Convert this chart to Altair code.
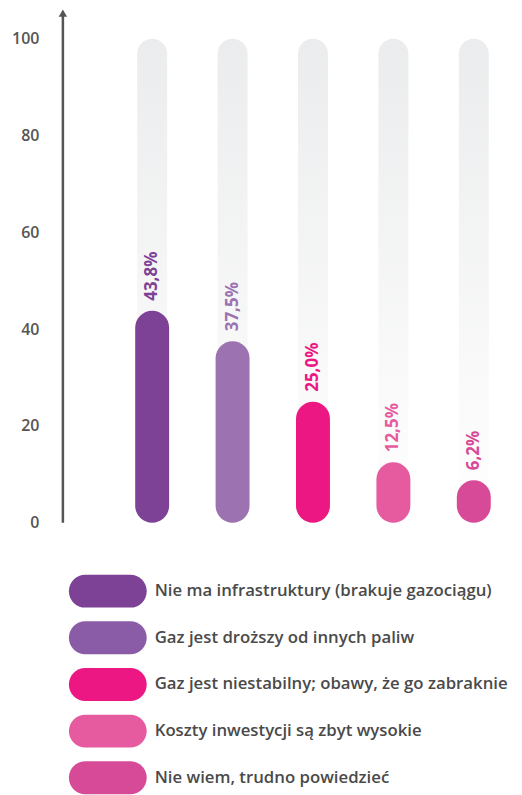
import altair as alt
import pandas as pd

categories = [
    "Nie ma infrastruktury (brakuje gazociągu)",
    "Gaz jest droższy od innych paliw",
    "Gaz jest niestabilny; obawy, że go zabraknie",
    "Koszty inwestycji są zbyt wysokie",
    "Nie wiem, trudno powiedzieć",
]
values = [43.8, 37.5, 25.0, 12.5, 6.2]
labels = ["43,8%", "37,5%", "25,0%", "12,5%", "6,2%"]
bar_colors = ["#7d4296", "#9c72b0", "#ec1783", "#e65ba0", "#d64a98"]
legend_colors = ["#7d4296", "#8a5ca8", "#ec1783", "#e65ba0", "#d64a98"]
y_ticks = [0, 20, 40, 60, 80, 100]

df = pd.DataFrame({
    "cat": categories,
    "value": values,
    "label": labels,
    "bar_color": bar_colors,
    "legend_color": legend_colors,
    "full": [100] * len(categories),
})

FONT = "Open Sans"
AXIS_COL = "#555555"

x_enc = alt.X(
    "cat:N", sort=categories, axis=None,
    scale=alt.Scale(paddingInner=0, paddingOuter=0.3051, align=1),
)
y_scale = alt.Scale(domain=[0, 100], nice=False, zero=True)

base = alt.Chart(df)

background = base.mark_bar(
    size=30, cornerRadius=15,
    color=alt.Gradient(
        gradient="linear",
        stops=[alt.GradientStop(color="#ebeced", offset=0),
               alt.GradientStop(color="#ffffff", offset=1)],
        x1=0, x2=0, y1=0, y2=1,
    ),
).encode(
    x=x_enc,
    y=alt.Y("full:Q", scale=y_scale,
            axis=alt.Axis(values=y_ticks, title=None, grid=False, domain=False,
                          ticks=False, tickSize=0, labelPadding=24,
                          labelFont=FONT, labelFontSize=16, labelFontWeight=600,
                          labelColor=AXIS_COL)),
    y2=alt.datum(0),
)

bars = base.transform_calculate(
    top="max(datum.value, 8.8)"
).mark_bar(size=34, cornerRadius=17).encode(
    x=x_enc,
    y=alt.Y("top:Q", scale=y_scale),
    y2=alt.datum(0),
    color=alt.Color("bar_color:N", scale=None),
)

text = base.transform_calculate(
    top="max(datum.value, 8.8)"
).mark_text(
    angle=270, align="left", baseline="middle", dx=10,
    font=FONT, fontSize=17, fontWeight="bold",
).encode(
    x=x_enc,
    y=alt.Y("top:Q", scale=y_scale),
    text="label:N",
    color=alt.Color("bar_color:N", scale=None),
)

axis_line = alt.Chart(pd.DataFrame({"a": [0]})).mark_rule(
    color=AXIS_COL, strokeWidth=2.5
).encode(
    x=alt.value(0),
    y=alt.datum(0, scale=y_scale),
    y2=alt.datum(105),
)

arrow = alt.Chart(pd.DataFrame({"a": [0]})).mark_point(
    shape="triangle-up", filled=True, color=AXIS_COL, size=70, opacity=1
).encode(
    x=alt.value(0),
    y=alt.datum(105.3, scale=y_scale),
)

main = alt.layer(background, bars, text, axis_line, arrow).properties(
    width=452, height=485
)

legend_y = alt.Y("cat:N", sort=categories, axis=None,
                 scale=alt.Scale(paddingInner=0.294, paddingOuter=0))

swatch = alt.Chart(df).mark_bar(cornerRadius=16.5).encode(
    y=legend_y,
    x=alt.value(6),
    x2=alt.value(84),
    color=alt.Color("legend_color:N", scale=None),
)

legend_text = alt.Chart(df).mark_text(
    align="left", baseline="middle", font=FONT, fontSize=16.8,
    fontWeight=600, color="#4a4a4a",
).encode(
    y=legend_y,
    x=alt.value(92),
    text="cat:N",
)

legend = alt.layer(swatch, legend_text).properties(width=400, height=220)

chart = alt.vconcat(main, legend, spacing=52, bounds="flush").properties(
    padding={"top": 0, "left": 3, "right": 0, "bottom": 0},
    background="white",
).configure_view(
    stroke="transparent", strokeWidth=0
)

chart.save("out.html", embed_options={"renderer": "svg", "actions": False})
